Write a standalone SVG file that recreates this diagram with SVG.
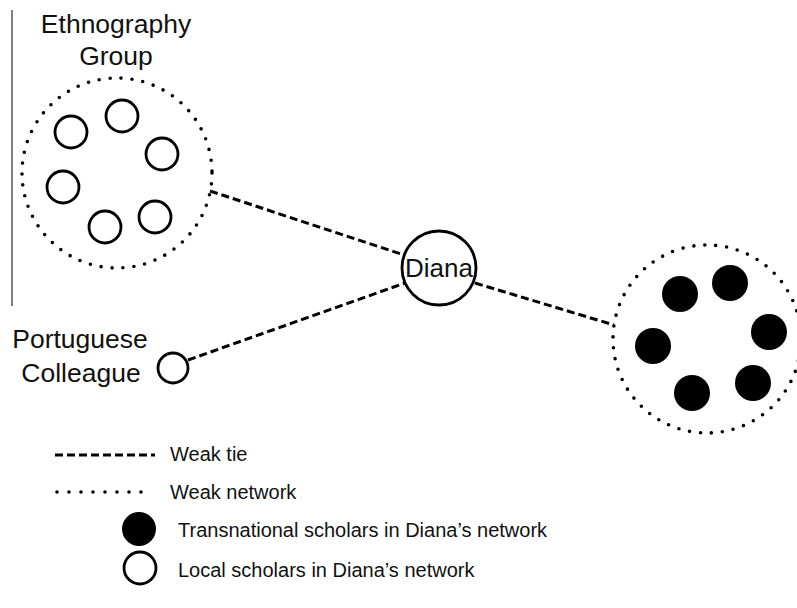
<svg xmlns="http://www.w3.org/2000/svg" width="797" height="608" viewBox="0 0 797 608">
<style>
text{font-family:"Liberation Sans",Arial,sans-serif;fill:#111}
.lbl{font-size:26.5px}
.leg{font-size:20px}
.open{fill:#fff;stroke:#000;stroke-width:2.8}
.full{fill:#000}
.dot{fill:none;stroke:#000;stroke-width:3.6;stroke-linecap:round;stroke-dasharray:0 11}
.dash{fill:none;stroke:#000;stroke-width:3;stroke-dasharray:8 4}
</style>
<rect width="797" height="608" fill="#fff"/>
<line x1="12" y1="10" x2="12" y2="306" stroke="#555" stroke-width="1.5"/>
<g id="connectors">
<line class="dash" x1="210" y1="191" x2="404" y2="255"/>
<line class="dash" x1="188" y1="360" x2="405" y2="283"/>
<line class="dash" x1="475" y1="283" x2="614" y2="325"/>
</g>
<g id="ethnography-group">
<text class="lbl" x="116" y="33" text-anchor="middle">Ethnography</text>
<text class="lbl" x="116" y="65" text-anchor="middle">Group</text>
<circle class="dot" cx="117" cy="173" r="95"/>
<circle class="open" cx="71" cy="132" r="16"/>
<circle class="open" cx="122" cy="116" r="16"/>
<circle class="open" cx="162" cy="154" r="16"/>
<circle class="open" cx="63" cy="187" r="16"/>
<circle class="open" cx="105" cy="227" r="16"/>
<circle class="open" cx="155" cy="217" r="16"/>
</g>
<g id="diana">
<circle class="open" cx="439" cy="268" r="37"/>
<text x="439" y="277" text-anchor="middle" font-size="26">Diana</text>
</g>
<g id="transnational-group">
<circle class="dot" cx="707" cy="339" r="94"/>
<circle class="full" cx="680" cy="294" r="18"/>
<circle class="full" cx="730" cy="283" r="18"/>
<circle class="full" cx="769" cy="332" r="18"/>
<circle class="full" cx="653" cy="346" r="18"/>
<circle class="full" cx="753" cy="383" r="18"/>
<circle class="full" cx="692" cy="393" r="18"/>
</g>
<g id="portuguese-colleague">
<text class="lbl" x="80" y="348" text-anchor="middle">Portuguese</text>
<text class="lbl" x="81" y="382" text-anchor="middle">Colleague</text>
<circle class="open" cx="173" cy="368" r="15"/>
</g>
<g id="legend">
<line class="dash" x1="55" y1="455" x2="155" y2="455"/>
<text class="leg" x="170" y="461">Weak tie</text>
<line class="dot" x1="57" y1="492" x2="153" y2="492" style="stroke-dasharray:0 12"/>
<text class="leg" x="170" y="499">Weak network</text>
<circle class="full" cx="139" cy="529" r="17"/>
<text class="leg" x="178" y="537">Transnational scholars in Diana’s network</text>
<circle class="open" cx="140" cy="568" r="16"/>
<text class="leg" x="178" y="577">Local scholars in Diana’s network</text>
</g>
</svg>
